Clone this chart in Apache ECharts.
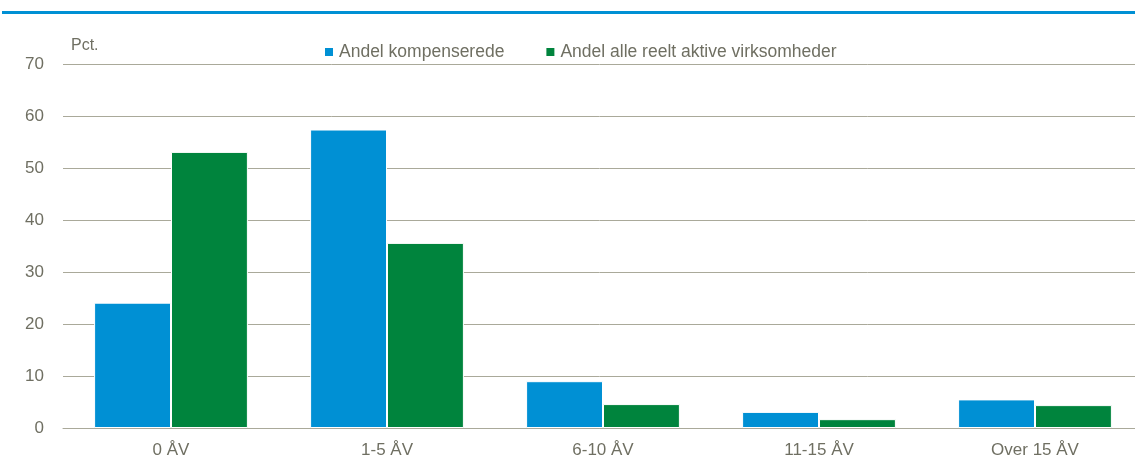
<!DOCTYPE html>
<html>
<head>
<meta charset="utf-8">
<script src="https://cdn.jsdelivr.net/npm/echarts@6/dist/echarts.min.js"></script>
<style>
  html, body { margin: 0; padding: 0; background: #fff; overflow: hidden; }
  #chart { width: 1135px; height: 466px; }
</style>
</head>
<body>
<div id="chart"></div>
<script>
// data
const categories = ['0 ÅV', '1-5 ÅV', '6-10 ÅV', '11-15 ÅV', 'Over 15 ÅV']
const kompenserede = [24.1, 57.4, 9.0, 3.1, 5.5]
const alleAktive = [53.1, 35.6, 4.6, 1.7, 4.4]
const seriesNames = ['Andel kompenserede', 'Andel alle reelt aktive virksomheder']

const font = '"Liberation Sans Narrow", "Arial Narrow", "Liberation Sans", Arial, sans-serif'
const textColor = '#6f6f62'
const gridColor = '#aaa99a'

const chart = echarts.init(document.getElementById('chart'))
chart.setOption({
  animation: false,
  // blue rule under the (cut off) heading
  graphic: [{
    type: 'rect',
    shape: { x: 2, y: 11, width: 1133, height: 3 },
    style: { fill: '#0090d4' }
  }],
  legend: {
    top: 38,
    left: 318,
    icon: 'rect',
    itemWidth: 10,
    itemHeight: 10,
    itemGap: 40,
    textStyle: { color: textColor, fontFamily: font, fontSize: 17.5 },
    data: seriesNames
  },
  grid: {
    left: 63,
    width: 1080, // plot runs a little past the right edge in the original
    top: 64,
    bottom: 38,
    containLabel: false,
    outerBoundsMode: 'none'
  },
  xAxis: {
    type: 'category',
    data: categories,
    axisLine: { lineStyle: { color: gridColor, width: 1 } },
    axisTick: { show: false },
    axisLabel: { color: textColor, fontFamily: font, fontSize: 17, margin: 14 }
  },
  yAxis: {
    type: 'value',
    min: 0,
    max: 70,
    interval: 10,
    name: 'Pct.',
    nameLocation: 'end',
    nameGap: 10,
    nameTextStyle: { color: textColor, fontFamily: font, fontSize: 16, align: 'left', padding: [0, 0, 0, 8] },
    axisLine: { show: false },
    axisTick: { show: false },
    splitLine: { lineStyle: { color: gridColor, width: 1 } },
    axisLabel: { color: textColor, fontFamily: font, fontSize: 17, margin: 19 }
  },
  series: [
    {
      name: seriesNames[0],
      type: 'bar',
      data: kompenserede,
      barWidth: '35.6%',
      barGap: '0%',
      itemStyle: { color: '#0090d4', borderColor: '#fff', borderWidth: 1 }
    },
    {
      name: seriesNames[1],
      type: 'bar',
      data: alleAktive,
      barWidth: '35.6%',
      itemStyle: { color: '#00843d', borderColor: '#fff', borderWidth: 1 }
    }
  ]
})
</script>
</body>
</html>
